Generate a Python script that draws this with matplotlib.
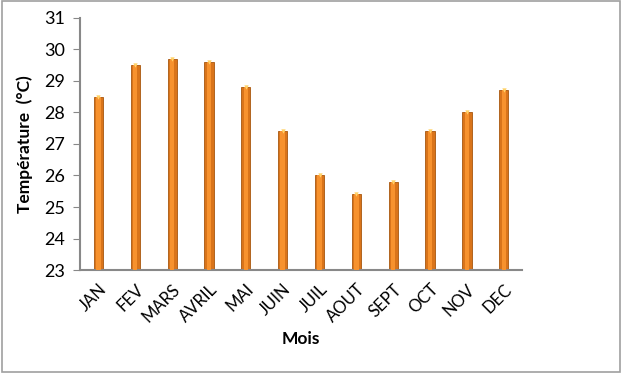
import matplotlib.pyplot as plt
import matplotlib.patches as patches
import numpy as np

mois = ['JAN', 'FEV', 'MARS', 'AVRIL', 'MAI', 'JUIN', 'JUIL', 'AOUT',
        'SEPT', 'OCT', 'NOV', 'DEC']
temperature = [28.5, 29.5, 29.7, 29.6, 28.8, 27.4, 26.0, 25.4, 25.8, 27.4, 28.0, 28.7]
yticks = [23, 24, 25, 26, 27, 28, 29, 30, 31]

plt.rcParams['font.family'] = ['Lato', 'DejaVu Sans']

fig = plt.figure(figsize=(6.22, 3.73), dpi=100)
fig.patches.append(patches.Rectangle((0.003, 0.004), 0.994, 0.992, transform=fig.transFigure,
                                     fill=False, edgecolor='#a0a0a0', linewidth=1.2))
ax = fig.add_axes([0.1286, 0.276, 0.711, 0.676])

x = np.arange(len(mois))
base = 23
heights = [t - base for t in temperature]
# cylinder-like bars: dark body, lighter centre
ax.bar(x, heights, bottom=base, width=0.25, color='#D9741A', edgecolor='#A8560E',
       linewidth=0.6, zorder=2)
ax.bar(x, heights, bottom=base, width=0.12, color='#F7922E', linewidth=0, zorder=3)
ax.scatter(x, temperature, marker='v', s=10, color='#FFD36A', zorder=4, linewidths=0)

ax.set_xlim(-0.5, len(mois) - 0.5)
ax.set_ylim(23, 31)
ax.set_yticks(yticks)
ax.set_xticks(x)
ax.set_xticklabels(mois, rotation=45, ha='right', rotation_mode='anchor', fontsize=12)
ax.tick_params(axis='x', length=0, pad=8)
ax.tick_params(axis='y', length=5, color='#888888', labelsize=13, pad=6)

for s in ['top', 'right']:
    ax.spines[s].set_visible(False)
for s in ['left', 'bottom']:
    ax.spines[s].set_color('#888888')
    ax.spines[s].set_linewidth(1.5)

ax.set_ylabel('Température  (°C)', fontsize=12.5, fontweight='bold', labelpad=8)
ax.set_xlabel('Mois', fontsize=12.5, fontweight='bold', labelpad=4)

fig.savefig('out.png', dpi=100)
